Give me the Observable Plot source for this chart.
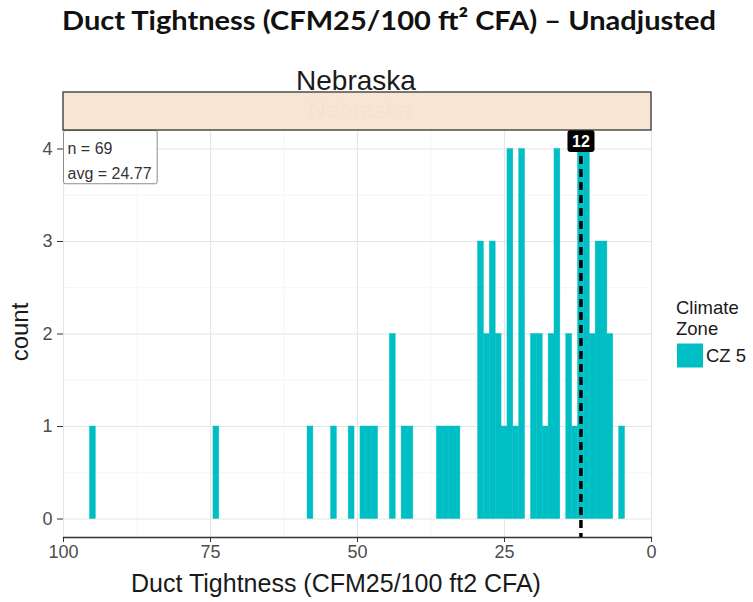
<!DOCTYPE html>
<html><head><meta charset="utf-8">
<script src="https://cdn.jsdelivr.net/npm/d3@7"></script>
<script src="https://cdn.jsdelivr.net/npm/@observablehq/plot@0.6"></script>
<style>body{margin:0;background:#fff;} #chart svg{display:block;}</style>
</head><body><div id="chart"></div>
<script>
// ---- data ----
const binCenters = [95,74,58,54,51,49,48,47,44,42,41,36,35,34,33,29,28,27,26,25,24,23,22,20,19,18,17,16,14,13,12,11,10,9,8,7,5];
const counts     = [ 1, 1, 1, 1, 1, 1, 1, 1, 2, 1, 1, 1, 1, 1, 1, 3, 2, 3, 2, 1, 4, 1, 4, 2, 2, 1, 2, 4, 2, 1, 4, 4, 2, 3, 3, 2, 1];
const binWidth = 1;
const xTicks = [100, 75, 50, 25, 0];
const xMinorTicks = [87.5, 62.5, 37.5, 12.5];
const yTicks = [0, 1, 2, 3, 4];
const yMinorTicks = [0.5, 1.5, 2.5, 3.5];
const targetValues = [12];
const nObs = 69;
const avgValue = "24.77";
const facetLabels = ["Nebraska"];
const legendTitleLines = ["Climate", "Zone"];
const legendLabels = ["CZ 5"];
const titleText = "Duct Tightness (CFM25/100 ft\u00B2 CFA) \u2013 Unadjusted";
const xTitle = "Duct Tightness (CFM25/100 ft2 CFA)";
const yTitle = "count";

const fillColor = "#00BFC4";
const bins = binCenters.map((c, i) => ({x1: c - binWidth / 2, x2: c + binWidth / 2, count: counts[i]}));

const W = 753, H = 602;
const mL = 63, mR = 102, mT = 130, mB = 65;
const FONT = "'Liberation Sans', Arial, sans-serif";

const plot = Plot.plot({
  width: W, height: H,
  marginLeft: mL, marginRight: mR, marginTop: mT, marginBottom: mB,
  style: {fontFamily: FONT, background: "#fff"},
  x: {domain: [100, 0], label: null},
  y: {domain: [-0.2, 4.2], label: null},
  marks: [
    Plot.gridX(xMinorTicks, {stroke: "#F3F3F3", strokeOpacity: 1, strokeWidth: 0.8}),
    Plot.gridY(yMinorTicks, {stroke: "#F3F3F3", strokeOpacity: 1, strokeWidth: 0.8}),
    Plot.gridX(xTicks, {stroke: "#E6E6E6", strokeOpacity: 1, strokeWidth: 1.1}),
    Plot.gridY(yTicks, {stroke: "#E6E6E6", strokeOpacity: 1, strokeWidth: 1.1}),
    Plot.rectY(bins, {x1: "x1", x2: "x2", y: "count", fill: fillColor, stroke: fillColor, strokeWidth: 0.4, inset: 0}),
    Plot.ruleX(targetValues, {stroke: "#000", strokeWidth: 3.5, strokeDasharray: "8,5"}),
    Plot.frame({anchor: "bottom", stroke: "#333", strokeWidth: 1.3}),
    Plot.axisX(xTicks, {tickSize: 5, tickPadding: 3, fontSize: 18, fill: "#4D4D4D", stroke: "#333", label: null, tickFormat: d3.format("d")}),
    Plot.axisY(yTicks, {tickSize: 6, tickPadding: 5, fontSize: 18, fill: "#4D4D4D", stroke: "#333", label: null, tickFormat: d3.format("d")}),
    Plot.text([`n = ${nObs}\navg = ${avgValue}`], {frameAnchor: "top-left", textAnchor: "start", lineAnchor: "top",
      dx: 4, dy: 6, fontSize: 16, lineHeight: 1.5625, fill: "#333", ariaDescription: "nbox"}),
    Plot.text(targetValues, {x: d => d, frameAnchor: "top", lineAnchor: "middle", dy: 11, fontSize: 16, fontWeight: 600,
      fill: "#fff", text: d => String(d), ariaDescription: "tlabel"})
  ]
});

document.getElementById("chart").appendChild(plot);
const svg = d3.select(plot);

// background boxes behind text labels, in absolute svg coordinates
function absBox(el) {
  const b = el.getBBox();
  const m = el.getCTM();
  return {x: b.x * m.a + m.e, y: b.y * m.d + m.f, width: b.width * m.a, height: b.height * m.d};
}
function boxBehind(desc, fn) {
  const g = svg.select(`g[aria-description="${desc}"]`);
  if (g.empty()) return;
  g.selectAll("text").each(function() {
    const r = fn(absBox(this));
    const rect = document.createElementNS("http://www.w3.org/2000/svg", "rect");
    plot.insertBefore(rect, g.node());
    d3.select(rect).attr("x", r.x).attr("y", r.y).attr("width", r.w).attr("height", r.h)
      .attr("rx", r.rx).attr("fill", r.fill).attr("stroke", r.stroke || "none").attr("stroke-width", 1);
  });
}
boxBehind("nbox", b => ({x: mL + 0.5, y: mT + 0.5, w: b.x + b.width + 5 - mL, h: b.y + b.height + 1 - mT, rx: 2, fill: "#fff", stroke: "#8c8c8c"}));
boxBehind("tlabel", b => ({x: b.x + b.width / 2 - 13.5, y: mT, w: 27, h: 22, rx: 3, fill: "#000"}));

// facet strip
const strip = svg.append("g").attr("font-family", FONT).attr("text-anchor", "middle");
strip.append("rect").attr("x", mL).attr("y", 92).attr("width", W - mL - mR).attr("height", mT - 92)
  .attr("fill", "#F7E6D3").attr("stroke", "#333").attr("stroke-width", 1.3);
strip.append("text").attr("x", 360).attr("y", 118).attr("font-size", 24).attr("fill", "#F5E3D0").text(facetLabels[0]);
strip.append("text").attr("x", 356).attr("y", 90).attr("font-size", 28).attr("fill", "#1a1a1a").text(facetLabels[0]);

// title
svg.append("text").attr("x", 389).attr("y", 30).attr("text-anchor", "middle")
  .attr("font-family", "Lato, 'Open Sans', sans-serif").attr("font-weight", 700).attr("font-size", 27)
  .attr("textLength", 654).attr("lengthAdjust", "spacingAndGlyphs")
  .attr("fill", "#111").text(titleText);

// axis titles
svg.append("text").attr("x", 336).attr("y", 592).attr("text-anchor", "middle")
  .attr("font-family", FONT).attr("font-size", 25).attr("fill", "#1a1a1a").text(xTitle);
svg.append("text").attr("transform", "translate(28,332) rotate(-90)").attr("text-anchor", "middle")
  .attr("font-family", FONT).attr("font-size", 24).attr("fill", "#1a1a1a").text(yTitle);

// legend
const lg = svg.append("g").attr("font-family", FONT).attr("font-size", 18.5).attr("fill", "#1a1a1a").attr("text-anchor", "start");
legendTitleLines.forEach((t, i) => lg.append("text").attr("x", 676).attr("y", 314 + i * 21).text(t));
legendLabels.forEach((t, i) => {
  lg.append("rect").attr("x", 677).attr("y", 343.5 + i * 26).attr("width", 26).attr("height", 24).attr("fill", fillColor);
  lg.append("text").attr("x", 706).attr("y", 362 + i * 26).text(t);
});
</script>
</body></html>
